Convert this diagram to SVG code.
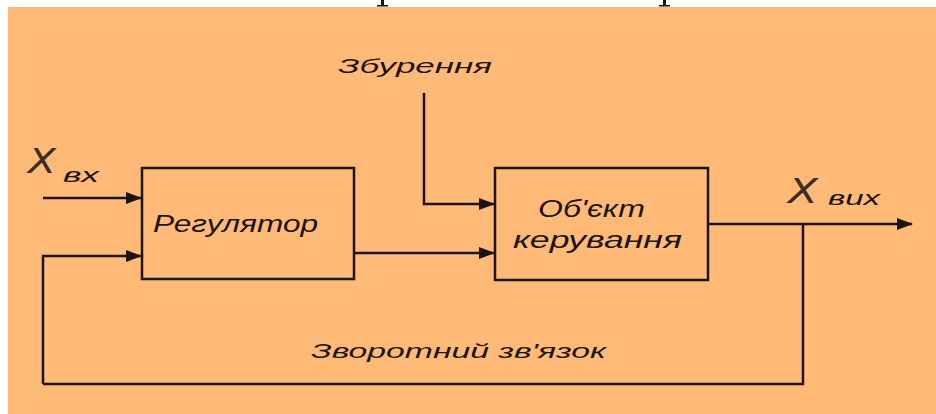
<svg xmlns="http://www.w3.org/2000/svg" width="936" height="414" viewBox="0 0 936 414">
<defs>
<style>
.ln{fill:none;stroke:#1c1410;stroke-width:2.5}
.box{fill:none;stroke:#1c1410;stroke-width:2.5}
.t{font-family:"Liberation Sans",Arial,sans-serif;font-style:italic;fill:#1c1410}
.x{font-family:"DejaVu Sans","Liberation Sans",sans-serif;fill:#3a2e26;font-weight:200;font-style:italic}
</style>
<marker id="ah" viewBox="0 0 16 12" refX="15" refY="6" markerWidth="16" markerHeight="12" markerUnits="userSpaceOnUse" orient="auto">
<path d="M0,0 L16,6 L0,12 Z" fill="#1c1410"/>
</marker>
</defs>
<rect x="0" y="0" width="936" height="414" fill="#ffffff"/>
<rect x="8" y="7" width="928" height="407" fill="#FFBA78"/>
<g id="top-fragments" fill="#111">
<rect x="381" y="0" width="3" height="6"/><rect x="377" y="5" width="11" height="1.5"/>
<rect x="663" y="0" width="3" height="6"/><rect x="659" y="5" width="11" height="1.5"/>
</g>
<g id="connectors">
<path class="ln" d="M43,198 H141" marker-end="url(#ah)"/>
<path class="ln" d="M43,384 V256 H141" marker-end="url(#ah)"/>
<path class="ln" d="M354,253 H494" marker-end="url(#ah)"/>
<path class="ln" d="M424,93 V204 H494" marker-end="url(#ah)"/>
<path class="ln" d="M708,224 H912" marker-end="url(#ah)"/>
<path class="ln" d="M803,224 V384 H43"/>
</g>
<g id="regulator">
<rect class="box" x="142" y="168" width="212" height="111"/>
<text class="t" x="153" y="232" font-size="23" textLength="165" lengthAdjust="spacingAndGlyphs">Регулятор</text>
</g>
<g id="object">
<rect class="box" x="495" y="168" width="213" height="112"/>
<text class="t" x="538" y="217" font-size="23" textLength="107" lengthAdjust="spacingAndGlyphs">Об'єкт</text>
<text class="t" x="513" y="248" font-size="23" textLength="169" lengthAdjust="spacingAndGlyphs">керування</text>
</g>
<g id="labels">
<text class="x" x="28" y="173" font-size="34" textLength="28" lengthAdjust="spacingAndGlyphs">X</text>
<text class="t" x="63" y="182" font-size="20" textLength="36" lengthAdjust="spacingAndGlyphs">вх</text>
<text class="x" x="788" y="203" font-size="34" textLength="30" lengthAdjust="spacingAndGlyphs">X</text>
<text class="t" x="828" y="205" font-size="20" textLength="52" lengthAdjust="spacingAndGlyphs">вих</text>
<text class="t" x="338" y="73" font-size="21" textLength="154" lengthAdjust="spacingAndGlyphs">Збурення</text>
<text class="t" x="311" y="358" font-size="21" textLength="295" lengthAdjust="spacingAndGlyphs">Зворотний зв'язок</text>
</g>
</svg>
